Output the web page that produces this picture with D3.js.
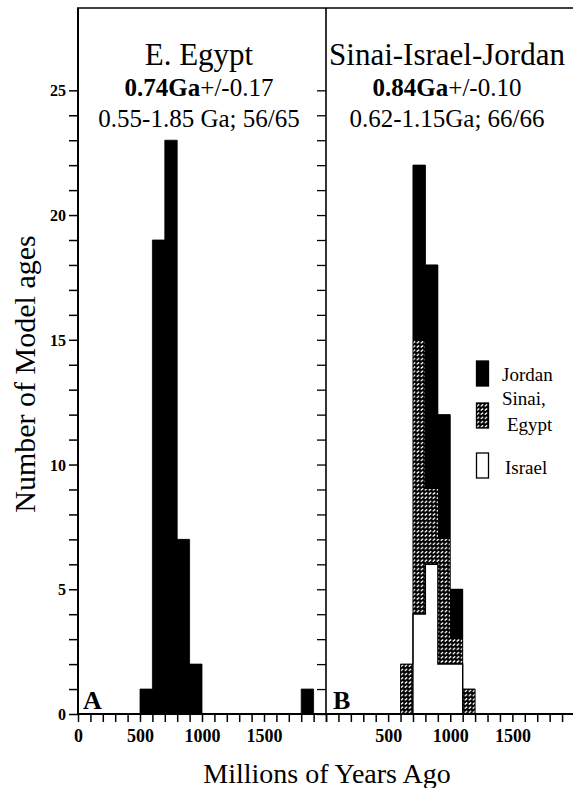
<!DOCTYPE html>
<html>
<head>
<meta charset="utf-8">
<script src="https://cdn.jsdelivr.net/npm/d3@7"></script>
<style>
  html, body { margin: 0; padding: 0; background: #fff; }
  svg { display: block; font-family: "Liberation Serif", "Times New Roman", serif; }
</style>
</head>
<body>
<svg id="chart" width="573" height="788"></svg>
<script>
// ---- data ----
const binWidth = 100;
const egyptBins = [500, 600, 700, 800, 900, 1800];
const egyptCounts = [1, 19, 23, 7, 2, 1];

const sijBins = [600, 700, 800, 900, 1000, 1100];
const israelCounts = [0, 4, 6, 2, 2, 0];
const sinaiEgyptCounts = [2, 11, 3, 5, 1, 1];
const jordanCounts = [0, 7, 9, 5, 2, 0];

const seriesNames = ["Israel", "Sinai, Egypt", "Jordan"];
const yTickValues = d3.range(0, 26, 1);
const yLabelValues = [0, 5, 10, 15, 20, 25];
const xTickValues = d3.range(0, 2001, 100);
const xLabelsA = [0, 500, 1000, 1500];
const xLabelsB = [500, 1000, 1500];

// ---- layout ----
const svg = d3.select("#chart");
const y = d3.scaleLinear().domain([0, 28.3]).range([714, 8]);
const xA = d3.scaleLinear().domain([0, 2000]).range([78, 326]);
const xB = d3.scaleLinear().domain([0, 2000]).range([326, 574.5]);

// step outline polygons for contiguous runs of non-empty bins
function stepPolys(bins, vals, xs) {
  const polys = [];
  let cur = null;
  bins.forEach((b, i) => {
    const v = vals[i];
    const contiguous = cur && cur.end === b;
    if (v <= 0) { if (cur) { polys.push(cur); cur = null; } return; }
    if (!contiguous) {
      if (cur) polys.push(cur);
      cur = { pts: [[xs(b), y(0)]], end: b };
    }
    cur.pts.push([xs(b), y(v)], [xs(b + binWidth), y(v)]);
    cur.end = b + binWidth;
  });
  if (cur) polys.push(cur);
  return polys.map(p => { p.pts.push([xs(p.end), y(0)]); return p.pts; });
}

// hatch pattern
const defs = svg.append("defs");
const pat = defs.append("pattern").attr("id", "hatch")
  .attr("patternUnits", "userSpaceOnUse").attr("width", 4).attr("height", 4.2);
pat.append("rect").attr("width", 4).attr("height", 4.2).attr("fill", "#000");
pat.append("line").attr("x1", 0.7).attr("y1", 3.1).attr("x2", 3.2).attr("y2", 1.1)
  .attr("stroke", "#fff").attr("stroke-width", 1.3);

// ---- panel A histogram ----
svg.append("g").selectAll("path").data(stepPolys(egyptBins, egyptCounts, xA)).join("path")
  .attr("d", d => d3.line()(d) + "Z")
  .attr("fill", "#000").attr("stroke", "#000").attr("stroke-width", 0.8);

// ---- panel B stacked bars ----
const tableB = sijBins.map((b, i) => ({
  bin: b,
  "Israel": israelCounts[i],
  "Sinai, Egypt": sinaiEgyptCounts[i],
  "Jordan": jordanCounts[i]
}));
const stack = d3.stack().keys(seriesNames)(tableB);
const fills = { "Israel": "#fff", "Sinai, Egypt": "url(#hatch)", "Jordan": "#000" };
stack.forEach(layer => {
  svg.append("g").selectAll("rect").data(layer.filter(d => d[1] > d[0])).join("rect")
    .attr("x", d => xB(d.data.bin)).attr("width", d => xB(d.data.bin + binWidth) - xB(d.data.bin))
    .attr("y", d => y(d[1])).attr("height", d => y(d[0]) - y(d[1]))
    .attr("fill", fills[layer.key])
    .attr("shape-rendering", "crispEdges");
});
// outline of the Israel (white) region
svg.append("g").selectAll("path").data(stepPolys(sijBins, israelCounts, xB)).join("path")
  .attr("d", d => d3.line()(d)).attr("fill", "none")
  .attr("stroke", "#000").attr("stroke-width", 1.3);
// outline of whole stacked histogram
const totals = sijBins.map((b, i) => israelCounts[i] + sinaiEgyptCounts[i] + jordanCounts[i]);
svg.append("g").selectAll("path").data(stepPolys(sijBins, totals, xB)).join("path")
  .attr("d", d => d3.line()(d)).attr("fill", "none")
  .attr("stroke", "#000").attr("stroke-width", 1);

// ---- frame ----
const frame = svg.append("g").attr("stroke", "#000").attr("fill", "none");
frame.append("line").attr("x1", 78).attr("x2", 78).attr("y1", y.range()[1]).attr("y2", y(0)).attr("stroke-width", 2);
frame.append("line").attr("x1", 326).attr("x2", 326).attr("y1", y.range()[1]).attr("y2", y(0)).attr("stroke-width", 1.6);
frame.append("line").attr("x1", 77).attr("x2", 573).attr("y1", y.range()[1]).attr("y2", y.range()[1]).attr("stroke-width", 1.6);

// left y axis
const yAxisL = d3.axisLeft(y).tickValues(yTickValues).tickSize(9)
  .tickFormat(d => yLabelValues.includes(d) ? d : "");
const gyl = svg.append("g").attr("transform", "translate(78,0)").call(yAxisL);
gyl.select(".domain").remove();
gyl.selectAll("line").attr("stroke-width", 1.5);
gyl.selectAll("text").attr("font-family", "Liberation Serif, serif").attr("font-weight", "bold")
  .attr("font-size", 16).attr("fill", "#000").attr("x", -12).attr("dy", "0.35em");

// inner ticks on divider (pointing into panel A)
const yAxisR = d3.axisLeft(y).tickValues(yTickValues).tickSize(9).tickFormat("");
const gyr = svg.append("g").attr("transform", "translate(326,0)").call(yAxisR);
gyr.select(".domain").remove();
gyr.selectAll("line").attr("stroke-width", 1.3);

// x axes
function xAxis(scale, labels) {
  const ax = d3.axisBottom(scale).tickValues(xTickValues).tickSize(8)
    .tickFormat(d => labels.includes(d) ? d : "");
  const g = svg.append("g").attr("transform", `translate(0,${y(0)})`).call(ax);
  g.select(".domain").attr("stroke-width", 2).attr("d", `M${scale.range()[0]},0H${scale.range()[1]}`);
  g.selectAll("line").attr("stroke-width", 1.5);
  g.selectAll("text").attr("font-family", "Liberation Serif, serif").attr("font-weight", "bold")
    .attr("font-size", 18).attr("fill", "#000").attr("y", 15).attr("dy", "0.71em");
  return g;
}
xAxis(xA, xLabelsA);
xAxis(xB, xLabelsB);

// panel letters
svg.append("text").attr("x", 83).attr("y", 709).attr("font-weight", "bold").attr("font-size", 26).text("A");
svg.append("text").attr("x", 333).attr("y", 709).attr("font-weight", "bold").attr("font-size", 26).text("B");

// titles
function title(cx, name, bold, rest, line3) {
  svg.append("text").attr("x", cx).attr("y", 65).attr("text-anchor", "middle").attr("font-size", 31).text(name);
  const t = svg.append("text").attr("x", cx).attr("y", 96).attr("text-anchor", "middle").attr("font-size", 25);
  t.append("tspan").attr("font-weight", "bold").text(bold);
  t.append("tspan").text(rest);
  svg.append("text").attr("x", cx).attr("y", 127).attr("text-anchor", "middle").attr("font-size", 25).text(line3);
}
title(199, "E. Egypt", "0.74Ga", "+/-0.17", "0.55-1.85 Ga; 56/65");
title(447, "Sinai-Israel-Jordan", "0.84Ga", "+/-0.10", "0.62-1.15Ga; 66/66");

// legend
const legend = [
  { key: "Jordan", y: 361 },
  { key: "Sinai, Egypt", y: 403 },
  { key: "Israel", y: 453 }
];
legend.forEach(l => {
  svg.append("rect").attr("x", 476.5).attr("y", l.y).attr("width", 12).attr("height", 25)
    .attr("fill", fills[l.key]).attr("stroke", "#000").attr("stroke-width", 1.3);
});
svg.append("text").attr("x", 502).attr("y", 381).attr("font-size", 19).text("Jordan");
svg.append("text").attr("x", 502).attr("y", 405).attr("font-size", 19).text("Sinai,");
svg.append("text").attr("x", 507).attr("y", 431).attr("font-size", 19).text("Egypt");
svg.append("text").attr("x", 505).attr("y", 474).attr("font-size", 19).text("Israel");

// axis titles
svg.append("text").attr("transform", "translate(35,374) rotate(-90)").attr("text-anchor", "middle")
  .attr("font-size", 30).text("Number of Model ages");
svg.append("text").attr("x", 327).attr("y", 783).attr("text-anchor", "middle")
  .attr("font-size", 28).text("Millions of Years Ago");
</script>
</body>
</html>
